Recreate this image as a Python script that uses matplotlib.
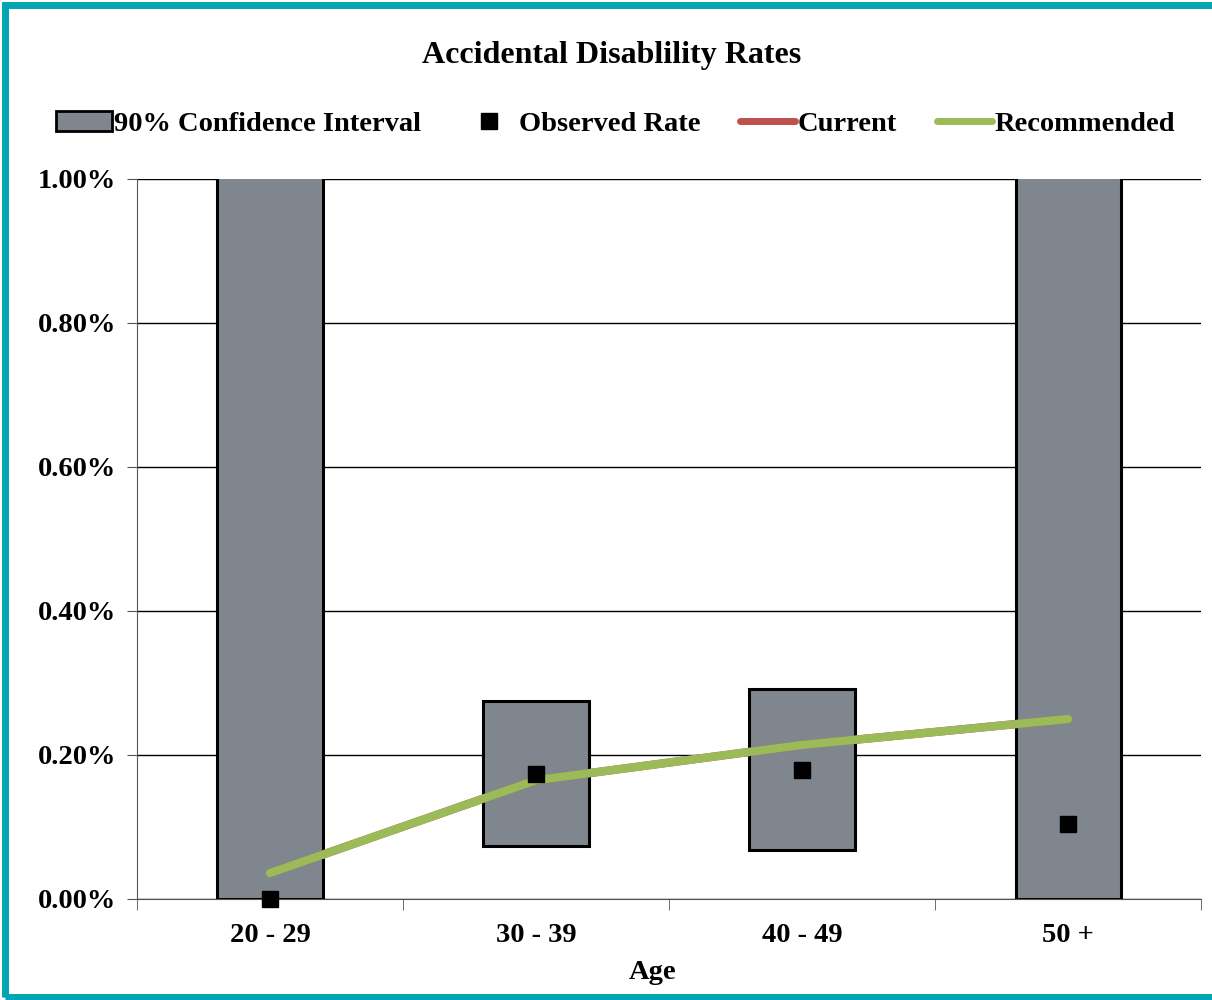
import matplotlib; matplotlib.use('agg')
import matplotlib.pyplot as plt
import numpy as np
from matplotlib.patches import Rectangle, Patch
from matplotlib.lines import Line2D
from matplotlib.ticker import FuncFormatter, MultipleLocator

plt.rc('font', family='Liberation Serif', weight='bold')

# Data (rates in %)
ages = ['20 - 29', '30 - 39', '40 - 49', '50 +']
ci_low = [0.0, 0.0736, 0.068, 0.0]
ci_high = [1.5, 0.275, 0.292, 1.5]
observed = [0.0, 0.1736, 0.179, 0.104]
current = [0.036, 0.165, 0.214, 0.25]
recommended = [0.036, 0.165, 0.214, 0.25]

fig = plt.figure(figsize=(12.12, 10), dpi=100)
ax = fig.add_axes([0.113, 0.101, 0.878, 0.72])
x = np.arange(len(ages))

ax.bar(x, np.array(ci_high) - np.array(ci_low), bottom=ci_low, width=0.395,
       color='#80868E', edgecolor='black', linewidth=2.2, zorder=2)
ax.plot(x, current, color='#C0504D', lw=6, solid_capstyle='round', zorder=3)
ax.plot(x, recommended, color='#9BBB59', lw=6, solid_capstyle='round', zorder=4)
ax.plot(x, observed, 's', color='black', ms=11, zorder=5, clip_on=False)

ax.set_xlim(-0.5, 3.5)
ax.set_ylim(0, 1.0)
ax.yaxis.set_major_locator(MultipleLocator(0.2))
ax.yaxis.set_major_formatter(FuncFormatter(lambda v, p: '{:.2f}%'.format(v)))
ax.grid(axis='y', color='black', lw=1, zorder=0)
ax.set_axisbelow(True)
ax.set_xticks(x)
ax.set_xticklabels(ages)
ax.set_xticks(np.arange(-0.5, 4, 1), minor=True)
ax.tick_params(axis='x', which='major', length=0, labelsize=20.5, pad=17)
ax.tick_params(axis='x', which='minor', length=8, color='#555555')
ax.tick_params(axis='y', length=7, labelsize=20.5, pad=8, color='#555555')
for s in ['top', 'right']:
    ax.spines[s].set_visible(False)
ax.spines['left'].set_color('#555555')
ax.spines['bottom'].set_color('#555555')
ax.set_xlabel('Age', fontsize=20.5, fontweight='bold')
ax.xaxis.set_label_coords(0.485, -0.085)

fig.text(0.505, 0.945, 'Accidental Disablility Rates', ha='center', va='center', fontsize=23)

handles = [Patch(facecolor='#80868E', edgecolor='black', lw=2),
           Line2D([], [], marker='s', ls='none', color='black', ms=11),
           Line2D([], [], color='#C0504D', lw=5, solid_capstyle='round'),
           Line2D([], [], color='#9BBB59', lw=5, solid_capstyle='round')]
labels = ['90% Confidence Interval', 'Observed Rate', 'Current', 'Recommended']
fig.legend(handles, labels, loc='center', bbox_to_anchor=(0.508, 0.876), ncol=4, frameon=False,
           fontsize=20.5, handlelength=1.95, handletextpad=0.08, columnspacing=1.4)

# teal frame, right edge runs off the canvas like in the source
fig.patches.append(Rectangle((0.004, 0.003), 1.05, 0.992, transform=fig.transFigure,
                             fill=False, edgecolor='#00A6B4', lw=5, clip_on=False))

fig.savefig('out.png', dpi=100, facecolor='white')
